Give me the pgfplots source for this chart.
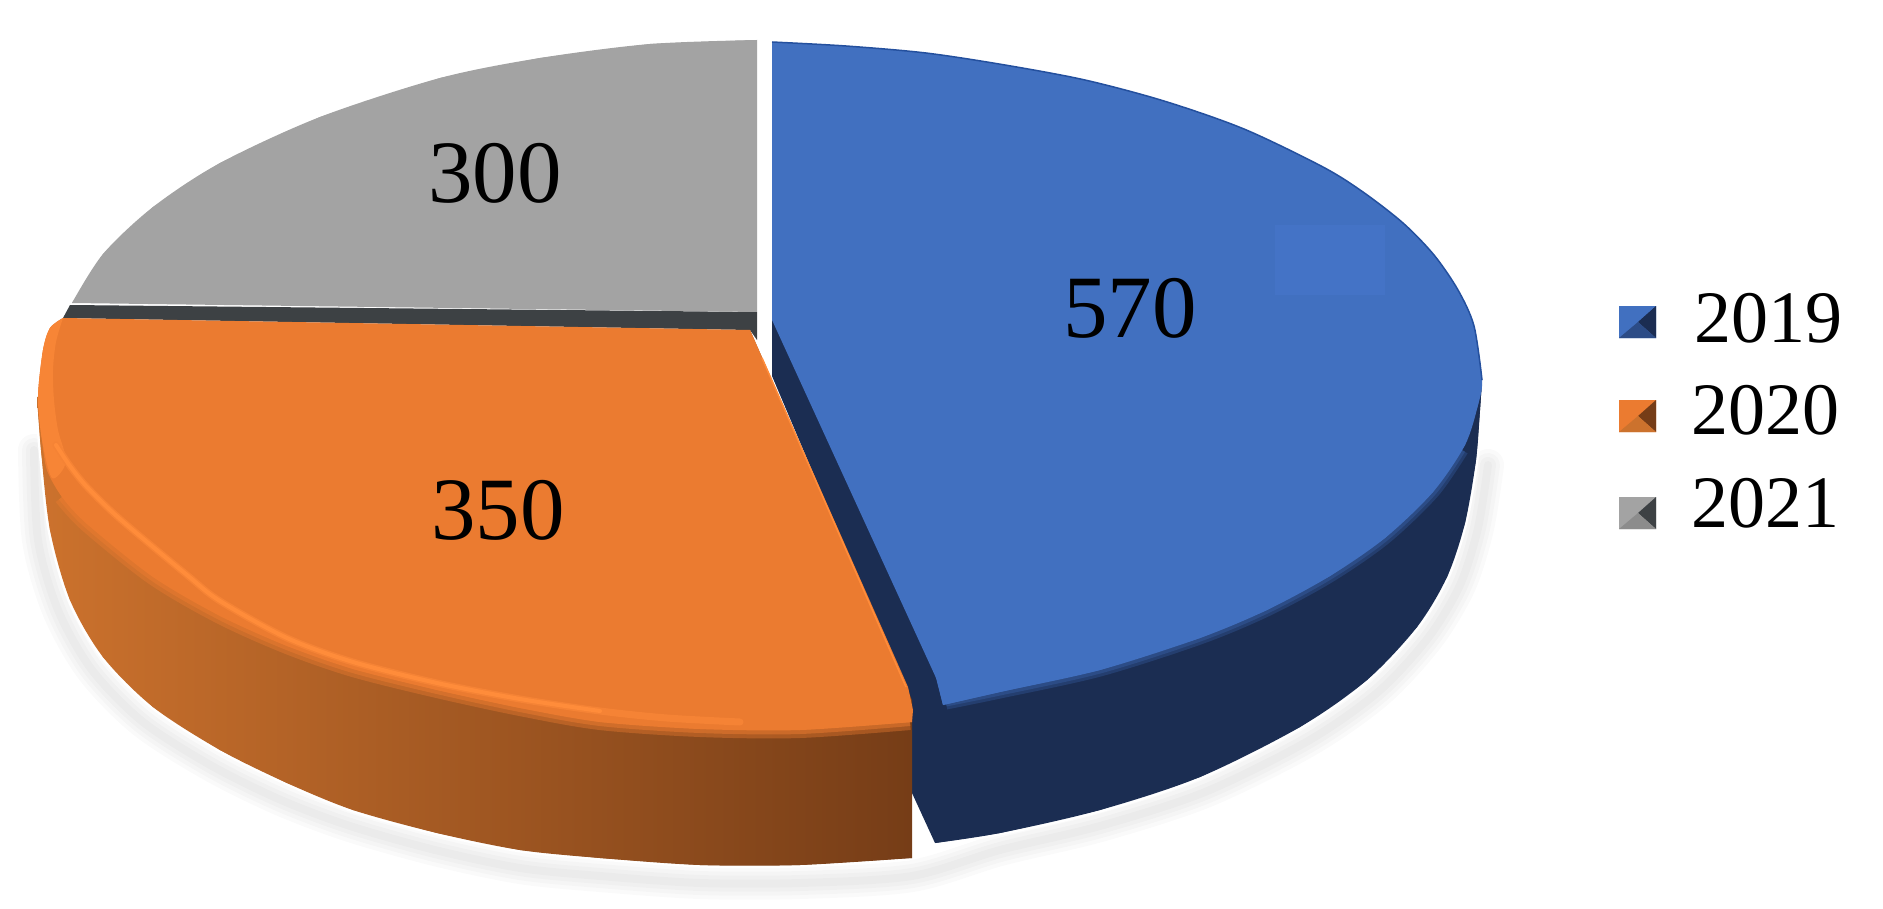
\documentclass[border=0pt]{standalone}
\usepackage{pgfplots}
\pgfplotsset{compat=1.18}
\usepackage{fontspec}
\setmainfont{Liberation Serif}
\definecolor{cblue}{HTML}{4170C0}
\definecolor{cbluelt}{HTML}{4473C6}
\definecolor{cblueline}{HTML}{24509E}
\definecolor{cbluedk}{HTML}{1B2D52}
\definecolor{cblueel}{HTML}{2C4C86}
\definecolor{corange}{HTML}{EB7B30}
\definecolor{corangehi}{HTML}{FF8C3A}
\definecolor{cosidel}{HTML}{CC722D}
\definecolor{cosider}{HTML}{763D17}
\definecolor{cgray}{HTML}{A3A3A3}
\definecolor{cstrip}{HTML}{3D4144}
\begin{document}
\begin{tikzpicture}
\useasboundingbox (0,0) rectangle (1883bp,909bp);
\begin{axis}[
  at={(0,0)}, anchor=south west,
  scale only axis, width=1883bp, height=909bp,
  xmin=0, xmax=1883, ymin=0, ymax=909, y dir=reverse,
  axis lines=none, tick style={draw=none},
  every axis plot/.append style={mark=none},
]
% soft shadow under the pie
\addplot[smooth, draw=black, opacity=0.02, line width=32bp, line cap=round] coordinates {(34,450)(38,540)(58,610)(92,670)(143,722)(212,766)(281,800)(350,826)(435,850)(520,868)(600,876)(700,883)(800,883)(912,876)(1000,850)(1100,826)(1205,792)(1308,741)(1378,692)(1428,638)(1460,585)(1478,528)(1488,465)};
\addplot[smooth, draw=black, opacity=0.02, line width=24bp, line cap=round] coordinates {(34,450)(38,540)(58,610)(92,670)(143,722)(212,766)(281,800)(350,826)(435,850)(520,868)(600,876)(700,883)(800,883)(912,876)(1000,850)(1100,826)(1205,792)(1308,741)(1378,692)(1428,638)(1460,585)(1478,528)(1488,465)};
\addplot[smooth, draw=black, opacity=0.02, line width=16bp, line cap=round] coordinates {(34,450)(38,540)(58,610)(92,670)(143,722)(212,766)(281,800)(350,826)(435,850)(520,868)(600,876)(700,883)(800,883)(912,876)(1000,850)(1100,826)(1205,792)(1308,741)(1378,692)(1428,638)(1460,585)(1478,528)(1488,465)};
\addplot[smooth, draw=black, opacity=0.02, line width=8bp, line cap=round] coordinates {(34,450)(38,540)(58,610)(92,670)(143,722)(212,766)(281,800)(350,826)(435,850)(520,868)(600,876)(700,883)(800,883)(912,876)(1000,850)(1100,826)(1205,792)(1308,741)(1378,692)(1428,638)(1460,585)(1478,528)(1488,465)};
% white halo between the pie and its shadow
\addplot[smooth, draw=white, line width=5bp] coordinates {(37,397)(41,450)(50,530)(70,600)(103,657)(153,707)(220,750)(287,783)(353,810)(437,833)(520,850)(600,858)(700,865)(800,865)(910,858)};
\addplot[smooth, draw=white, line width=5bp] coordinates {(935,843)(1000,833)(1100,810)(1200,777)(1300,727)(1367,680)(1417,627)(1447,577)(1465,523)(1476,460)(1480,410)(1482,380)};

% 2021 grey
\addplot[sharp plot, fill=cstrip, draw=none] coordinates {(70,305)(757,312)(757,340)(750,330)(63,318)(70,305)};
\addplot[sharp plot, fill=cgray, draw=none] coordinates {(757,40)(650,44)(540,58)(440,78)(320,117)(220,163)(153,207)(103,254)(72,303)(757,312)(757,40)};
\addplot[smooth, fill=cgray, draw=none] coordinates {(757,40)(650,44)(540,58)(440,78)(320,117)(220,163)(153,207)(103,254)(72,303)};

% 2019 blue: side wall
\addplot[sharp plot, fill=cbluedk, draw=none] coordinates {(772,320)(772,376)(905,690)(912,793)(935,843)(1000,833)(1100,810)(1200,777)(1300,727)(1367,680)(1417,627)(1447,577)(1465,523)(1476,460)(1480,410)(1482,380)(772,320)};
\addplot[smooth, fill=cbluedk, draw=none] coordinates {(935,843)(1000,833)(1100,810)(1200,777)(1300,727)(1367,680)(1417,627)(1447,577)(1465,523)(1476,460)(1480,410)(1482,380)};
\addplot[smooth, draw=cblueel!55!cbluedk, line width=13bp] coordinates {(1462,450)(1433,492)(1385,538)(1330,576)(1267,610)(1200,638)(1100,670)(1000,692)(946,703)};
\addplot[smooth, draw=cblueel, line width=7bp] coordinates {(1462,450)(1433,492)(1385,538)(1330,576)(1267,610)(1200,638)(1100,670)(1000,692)(946,703)};
% 2019 blue: top face
\addplot[sharp plot, fill=cblue, draw=none] coordinates {(772,42)(846,46)(926,53)(1005,65)(1085,80)(1164,101)(1244,129)(1323,167)(1363,192)(1403,223)(1434,255)(1458,290)(1474,326)(1482,380)(1478,405)(1465,445)(1433,492)(1385,538)(1330,576)(1267,610)(1200,638)(1100,670)(1000,692)(943,705)(937,680)(772,320)(772,42)};
\addplot[smooth, fill=cblue, draw=none] coordinates {(772,42)(846,46)(926,53)(1005,65)(1085,80)(1164,101)(1244,129)(1323,167)(1363,192)(1403,223)(1434,255)(1458,290)(1474,326)(1482,380)(1478,405)(1465,445)(1433,492)(1385,538)(1330,576)(1267,610)(1200,638)(1100,670)(1000,692)(943,705)};
\addplot[smooth, draw=cblueline, line width=1.5bp] coordinates {(772,42)(846,46)(926,53)(1005,65)(1085,80)(1164,101)(1244,129)(1323,167)(1363,192)(1403,223)(1434,255)(1458,290)(1474,326)(1482,380)};
\addplot[sharp plot, fill=cbluelt, draw=none] coordinates {(1275,225)(1385,225)(1385,295)(1275,295)(1275,225)};

% 2020 orange: side wall
\addplot[sharp plot, left color=cosidel, right color=cosider, draw=none, shade] coordinates {(37,397)(41,450)(50,530)(70,600)(103,657)(153,707)(220,750)(287,783)(353,810)(437,833)(520,850)(600,858)(700,865)(800,865)(910,858)(912,858)(912,700)(750,330)(37,397)};
\addplot[smooth, left color=cosidel, right color=cosider, draw=none, shade] coordinates {(37,397)(41,450)(50,530)(70,600)(103,657)(153,707)(220,750)(287,783)(353,810)(437,833)(520,850)(600,858)(700,865)(800,865)(912,858)};
\addplot[smooth, draw=corange, opacity=0.4, line width=16bp] coordinates {(62,497)(87,524)(153,577)(220,616)(287,646)(353,669)(437,690)(520,708)(600,722)(700,729)(800,730)(910,722)};
\addplot[smooth, draw=corange, opacity=0.5, line width=8bp] coordinates {(62,497)(87,524)(153,577)(220,616)(287,646)(353,669)(437,690)(520,708)(600,722)(700,729)(800,730)(910,722)};
% 2020 orange: top face
\addplot[sharp plot, fill=corange, draw=none] coordinates {(63,318)(50,328)(43,350)(38,397)(42,440)(47,470)(62,497)(87,524)(153,577)(220,616)(287,646)(353,669)(437,690)(520,708)(600,722)(700,729)(800,730)(912,722)(913,710)(908,687)(750,330)(63,318)};
\addplot[smooth, fill=corange, draw=none] coordinates {(63,318)(50,328)(43,350)(38,397)(42,440)(47,470)(62,497)(87,524)(153,577)(220,616)(287,646)(353,669)(437,690)(520,708)(600,722)(700,729)(800,730)(912,722)};
% bevel highlight
\addplot[smooth, fill=corange!40!corangehi, draw=none] coordinates {(63,318)(50,328)(43,350)(38,397)(42,440)(52,478)(66,462)(58,430)(54,400)(53,370)(56,342)(63,318)};
\addplot[smooth, draw=corange!50!corangehi, line width=7bp, line cap=round] coordinates {(56,445)(70,466)(87,487)(120,519)(187,575)(220,601)(287,638)(353,662)(437,683)(520,699)(600,711)(667,718)(740,722)};
\addplot[smooth, draw=corangehi, line width=4bp, line cap=round] coordinates {(56,445)(70,466)(87,487)(120,519)(187,575)(220,601)(287,638)(353,662)(437,683)(520,699)(600,711)};
\addplot[sharp plot, draw=corangehi, line width=1.5bp] coordinates {(762,358)(906,687)};

% values
\node[inner sep=0pt, font=\fontsize{89bp}{90bp}\selectfont] at (axis cs:1130,308) {570};
\node[inner sep=0pt, font=\fontsize{89bp}{90bp}\selectfont] at (axis cs:495,173) {300};
\node[inner sep=0pt, font=\fontsize{89bp}{90bp}\selectfont] at (axis cs:498,510) {350};

% legend keys
\addplot[sharp plot, fill=cblue, draw=none] coordinates {(1619,306)(1656,306)(1656,338)(1619,338)(1619,306)};
\addplot[sharp plot, fill=cbluedk, draw=none] coordinates {(1656,306)(1656,338)(1638,322)(1656,306)};
\addplot[sharp plot, fill=cblueel, draw=none] coordinates {(1619,338)(1656,338)(1638,322)(1619,338)};
\addplot[sharp plot, fill=corange, draw=none] coordinates {(1619,400)(1656,400)(1656,432)(1619,432)(1619,400)};
\addplot[sharp plot, fill=cosider, draw=none] coordinates {(1656,400)(1656,432)(1638,416)(1656,400)};
\addplot[sharp plot, fill=cosidel, draw=none] coordinates {(1619,432)(1656,432)(1638,416)(1619,432)};
\addplot[sharp plot, fill=cgray, draw=none] coordinates {(1619,497)(1656,497)(1656,529)(1619,529)(1619,497)};
\addplot[sharp plot, fill=cstrip, draw=none] coordinates {(1656,497)(1656,529)(1638,513)(1656,497)};
\addplot[sharp plot, fill=black!45, draw=none] coordinates {(1619,529)(1656,529)(1638,513)(1619,529)};

\node[inner sep=0pt, anchor=west, font=\fontsize{74bp}{80bp}\selectfont] at (axis cs:1694,318) {2019};
\node[inner sep=0pt, anchor=west, font=\fontsize{74bp}{80bp}\selectfont] at (axis cs:1691,410) {2020};
\node[inner sep=0pt, anchor=west, font=\fontsize{74bp}{80bp}\selectfont] at (axis cs:1691,503) {2021};
\end{axis}
\end{tikzpicture}
\end{document}
